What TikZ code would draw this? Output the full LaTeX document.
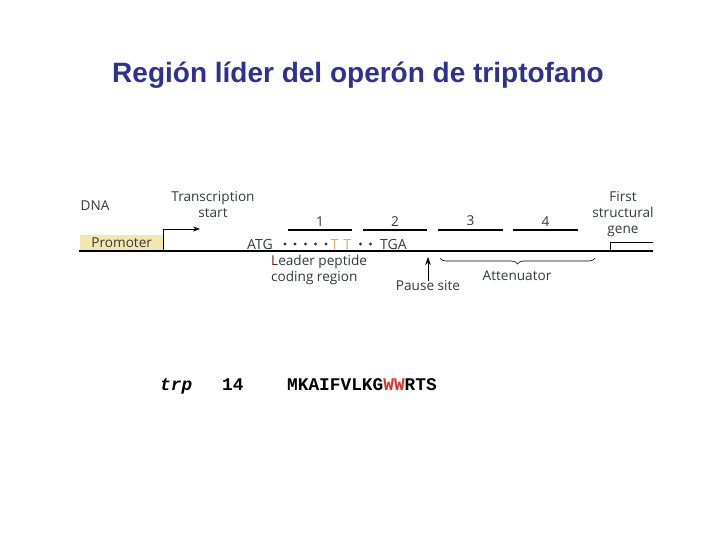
\documentclass[tikz,border=0pt]{standalone}
\usepackage{fontspec}
\setmainfont{Open Sans}
\setmonofont{Liberation Mono}
\newfontfamily\titlefont{Liberation Sans}
\usetikzlibrary{arrows.meta,decorations.pathreplacing}
\definecolor{titleblue}{RGB}{46,49,146}
\definecolor{labelgrey}{RGB}{52,56,64}
\definecolor{promoterfill}{RGB}{244,231,172}
\definecolor{ttorange}{RGB}{218,172,100}
\definecolor{leaderred}{RGB}{120,30,30}
\definecolor{wwred}{RGB}{222,52,40}
\begin{document}
\begin{tikzpicture}[x=1pt,y=-1pt,
  lbl/.style={font=\fontsize{13.6}{16}\selectfont, text=labelgrey, inner sep=0pt, align=center},
  codon/.style={lbl, font=\fontsize{14}{16}\selectfont, anchor=base},
  region/.style={line width=1.8pt},
  seqdot/.style={circle, fill=labelgrey, inner sep=0pt, minimum size=3.2pt},
  seq/.style={font=\ttfamily\bfseries\fontsize{17.8}{18}\selectfont, inner sep=0pt, anchor=base west}]
\useasboundingbox (0,0) rectangle (720,540);
% title
\node[font=\titlefont\bfseries\fontsize{28}{30}\selectfont, text=titleblue] (title) at (358,75) {Región líder del operón de triptofano};
% DNA strand
\coordinate (dnaL) at (79,251);
\coordinate (dnaR) at (653,251);
\draw[line width=2pt] (dnaL) -- (dnaR);
\node[lbl] (dna) at (95,206) {DNA};
\node[lbl, fill=promoterfill, minimum width=83pt, minimum height=15pt, anchor=south west] (promoter) at (80,250) {Promoter};
% transcription start
\node[lbl] (tstart) at (213,205) {Transcription\\start};
\coordinate (tsarrow) at (200,229);
\draw[line width=0.8pt, -{Stealth[length=7pt,width=5pt]}] (promoter.south east) |- (tsarrow);
% leader sequence
\node[codon] (atg) at (260,249) {ATG};
\foreach \x in {285,295,305.5,315.5,326}
  \node[seqdot] at (\x,244) {};
\node[codon, text=ttorange] (tt) at (341,249) {T\,\,T};
\foreach \x in {360.5,370.5}
  \node[seqdot] at (\x,244) {};
\node[codon] (tga) at (393.5,249) {TGA};
\node[lbl, align=left, anchor=north west] (leadtxt) at (271,255) {\textcolor{leaderred}{L}eader peptide\\coding region};
% regions 1-4
\draw[region] (288,230) -- node[lbl, above=3pt] (r1) {1} (352,230);
\draw[region] (363,230) -- node[lbl, above=3pt] (r2) {2} (427,230);
\draw[region] (438,230) -- node[lbl, above=3pt] (r3) {3} (503,230);
\draw[region] (513,230) -- node[lbl, above=3pt] (r4) {4} (578,230);
% pause site
\node[lbl] (pause) at (428,286) {Pause site};
\coordinate (pausetip) at (428,257);
\draw[line width=0.6pt, -{Stealth[length=8pt,width=5.5pt]}] (pause.north) -- (pausetip);
% attenuator
\draw[line width=0.6pt, decorate, decoration={brace, amplitude=6pt}] (595,258) -- (440,258);
\node[lbl] (atten) at (517,276) {Attenuator};
% first structural gene
\node[lbl] (gene) at (623,214) {First\\structural\\gene};
\draw[line width=1pt] (610,251) -- (610,242) -- (653,242);
% sequence
\node[seq] (trp) at (160,390) {\textit{trp}};
\node[seq] (len) at (222,390) {14};
\node[seq] (pep) at (287,390) {MKAIFVLKG\textcolor{wwred}{WW}RTS};
\end{tikzpicture}
\end{document}
